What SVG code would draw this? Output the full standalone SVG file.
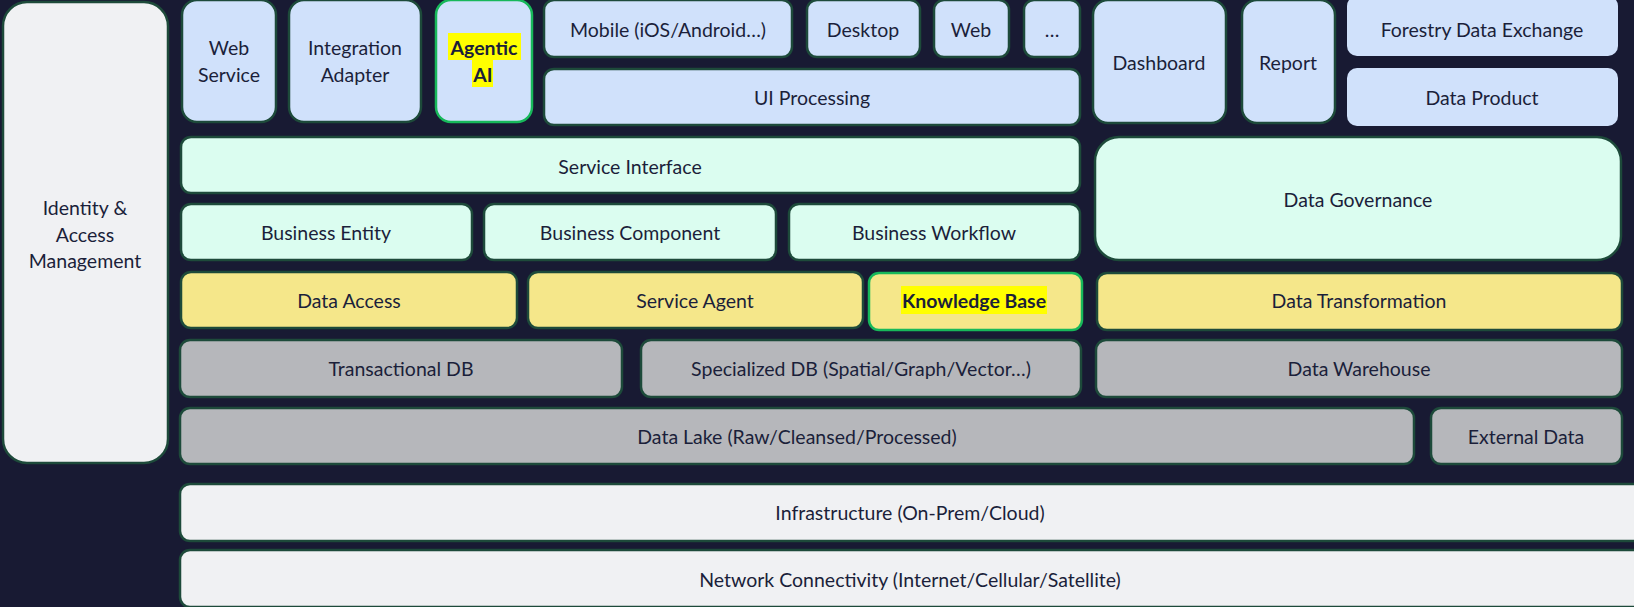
<svg xmlns="http://www.w3.org/2000/svg" width="1634" height="607" viewBox="0 0 1634 607">
<style>
  .b{stroke:#1d4a3a;stroke-width:2.5}
  .g{stroke:#17b85a;stroke-width:2.5}
  .blue{fill:#d0e1fb}
  .mint{fill:#dbfdf0}
  .yel{fill:#f5e78a}
  .gray{fill:#b6b7bb}
  .lt{fill:#f0f1f3}
  text{font-family:"Lato","Liberation Sans",sans-serif;font-size:19.5px;fill:#1b1f3a;text-anchor:middle;dominant-baseline:central}
  .bold{font-weight:bold}
  .hl{fill:#ffff00}
</style>
<rect x="0" y="0" width="1634" height="607" fill="#181a33"/>

<g id="identity"><rect class="b lt" x="3" y="2" width="165" height="461" rx="24"/>
<text x="85" y="207">Identity &amp;</text><text x="85" y="234">Access</text><text x="85" y="260">Management</text></g>

<g id="web-service"><rect class="b blue" x="182" y="0" width="94" height="122" rx="15"/>
<text x="229" y="47">Web</text><text x="229" y="74">Service</text></g>
<g id="integration-adapter"><rect class="b blue" x="289" y="0" width="132" height="122" rx="15"/>
<text x="355" y="47">Integration</text><text x="355" y="74">Adapter</text></g>
<g id="agentic-ai"><rect class="g blue" x="436" y="0" width="96" height="122" rx="15"/>
<rect class="hl" x="448" y="33" width="73" height="27"/><rect class="hl" x="472" y="60" width="21" height="27"/>
<text class="bold" x="484" y="47">Agentic</text><text class="bold" x="483" y="74">AI</text></g>

<g id="mobile"><rect class="b blue" x="544" y="0" width="248" height="57" rx="10"/><text x="668" y="29">Mobile (iOS/Android…)</text></g>
<g id="desktop"><rect class="b blue" x="807" y="0" width="113" height="57" rx="10"/><text x="863" y="29">Desktop</text></g>
<g id="web"><rect class="b blue" x="934" y="0" width="75" height="57" rx="10"/><text x="971" y="29">Web</text></g>
<g id="more"><rect class="b blue" x="1024" y="0" width="56" height="57" rx="10"/><text x="1052" y="29">…</text></g>
<g id="ui-processing"><rect class="b blue" x="544" y="69" width="536" height="56" rx="10"/><text x="812" y="97">UI Processing</text></g>

<g id="dashboard"><rect class="b blue" x="1093" y="0" width="133" height="123" rx="15"/><text x="1159" y="62">Dashboard</text></g>
<g id="report"><rect class="b blue" x="1242" y="0" width="93" height="123" rx="15"/><text x="1288" y="62">Report</text></g>
<g id="forestry-data-exchange"><rect class="blue" x="1347" y="-4" width="271" height="60" rx="10"/><text x="1482" y="29">Forestry Data Exchange</text></g>
<g id="data-product"><rect class="blue" x="1347" y="68" width="271" height="58" rx="10"/><text x="1482" y="97">Data Product</text></g>

<g id="service-interface"><rect class="b mint" x="181" y="137" width="899" height="56" rx="10"/><text x="630" y="166">Service Interface</text></g>
<g id="data-governance"><rect class="b mint" x="1095" y="137" width="526" height="123" rx="24"/><text x="1358" y="199">Data Governance</text></g>
<g id="business-entity"><rect class="b mint" x="181" y="204" width="291" height="56" rx="10"/><text x="326" y="232">Business Entity</text></g>
<g id="business-component"><rect class="b mint" x="484" y="204" width="292" height="56" rx="10"/><text x="630" y="232">Business Component</text></g>
<g id="business-workflow"><rect class="b mint" x="789" y="204" width="291" height="56" rx="10"/><text x="934" y="232">Business Workflow</text></g>

<g id="data-access"><rect class="b yel" x="181" y="272" width="336" height="56" rx="10"/><text x="349" y="300">Data Access</text></g>
<g id="service-agent"><rect class="b yel" x="528" y="272" width="335" height="56" rx="10"/><text x="695" y="300">Service Agent</text></g>
<g id="knowledge-base"><rect class="g yel" x="869" y="273" width="213" height="57" rx="10"/>
<rect class="hl" x="901" y="286" width="146" height="28"/><text class="bold" x="974" y="300">Knowledge Base</text></g>
<g id="data-transformation"><rect class="b yel" x="1097" y="273" width="525" height="57" rx="10"/><text x="1359" y="300">Data Transformation</text></g>

<g id="transactional-db"><rect class="b gray" x="180" y="340" width="442" height="57" rx="10"/><text x="401" y="368">Transactional DB</text></g>
<g id="specialized-db"><rect class="b gray" x="641" y="340" width="440" height="57" rx="10"/><text x="861" y="368">Specialized DB (Spatial/Graph/Vector…)</text></g>
<g id="data-warehouse"><rect class="b gray" x="1096" y="340" width="526" height="57" rx="10"/><text x="1359" y="368">Data Warehouse</text></g>
<g id="data-lake"><rect class="b gray" x="180" y="408" width="1234" height="56" rx="10"/><text x="797" y="436">Data Lake (Raw/Cleansed/Processed)</text></g>
<g id="external-data"><rect class="b gray" x="1431" y="408" width="191" height="56" rx="10"/><text x="1526" y="436">External Data</text></g>

<g id="infrastructure"><rect class="b lt" x="180" y="484" width="1466" height="57" rx="10"/><text x="910" y="512">Infrastructure (On-Prem/Cloud)</text></g>
<g id="network"><rect class="b lt" x="180" y="550" width="1466" height="57" rx="10"/><text x="910" y="579">Network Connectivity (Internet/Cellular/Satellite)</text></g>
</svg>
